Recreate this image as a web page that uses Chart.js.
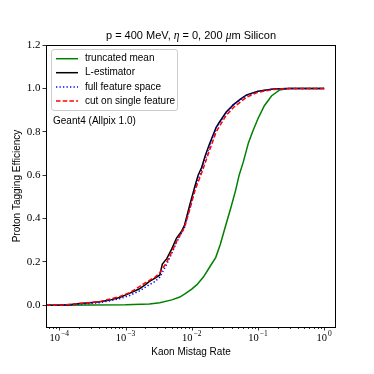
<!DOCTYPE html>
<html lang="en">
<head>
  <meta charset="UTF-8">
  <title>Proton Tagging Efficiency</title>
  <script src="https://cdn.jsdelivr.net/npm/chart.js"></script>
  <style>
    body { margin: 0; background: #fff; }
    #wrap { width: 374px; height: 374px; }
  </style>
</head>
<body>
  <div id="wrap"><canvas id="effChart" width="374" height="374"></canvas></div>

  <script>
    // truncated mean
    const truncMistag = [6.3e-5, 1e-4, 3e-4, 1e-3, 2.3e-3, 3.3e-3, 5.0e-3, 6.6e-3, 8.1e-3, 1.0e-2, 1.2e-2, 1.5e-2, 1.9e-2, 2.3e-2, 2.7e-2, 3.2e-2, 3.9e-2, 4.6e-2, 5.2e-2, 6.0e-2, 7.2e-2, 8.3e-2, 0.1, 0.125, 0.16, 0.21, 0.3, 1.0];
    const truncEff = [0, 0, 0.001, 0.002, 0.006, 0.012, 0.025, 0.038, 0.055, 0.075, 0.095, 0.13, 0.18, 0.22, 0.28, 0.36, 0.45, 0.53, 0.60, 0.66, 0.75, 0.80, 0.86, 0.92, 0.965, 0.992, 1.0, 1.0];

    // L-estimator
    const lestMistag = [6.3e-5, 1.0e-4, 1.4e-4, 2.0e-4, 2.9e-4, 4.1e-4, 5.8e-4, 8.1e-4, 1.15e-3, 1.6e-3, 2.0e-3, 2.3e-3, 2.8e-3, 3.3e-3, 3.6e-3, 4.2e-3, 5.0e-3, 5.9e-3, 7.0e-3, 7.8e-3, 9.3e-3, 1.12e-2, 1.25e-2, 1.41e-2, 1.6e-2, 1.86e-2, 2.34e-2, 2.63e-2, 3.3e-2, 4.27e-2, 5.5e-2, 6.76e-2, 0.1, 0.17, 0.3, 1.0];
    const lestEff = [0, 0.001, 0.003, 0.008, 0.012, 0.016, 0.024, 0.036, 0.055, 0.075, 0.095, 0.11, 0.125, 0.14, 0.19, 0.215, 0.26, 0.31, 0.34, 0.37, 0.46, 0.55, 0.6, 0.635, 0.69, 0.745, 0.82, 0.845, 0.89, 0.925, 0.952, 0.97, 0.987, 0.997, 1.0, 1.0];

    // full feature space
    const fullMistag = [6.3e-5, 1.2e-4, 2.0e-4, 4.1e-4, 8.1e-4, 1.15e-3, 1.6e-3, 2.3e-3, 2.8e-3, 3.3e-3, 4.2e-3, 5.0e-3, 5.9e-3, 7.8e-3, 9.3e-3, 1.12e-2, 1.41e-2, 1.86e-2, 2.34e-2, 3.3e-2, 4.27e-2, 6.76e-2, 0.1, 0.17, 0.3, 1.0];
    const fullEff = [0, 0.001, 0.005, 0.012, 0.03, 0.045, 0.065, 0.095, 0.11, 0.13, 0.19, 0.24, 0.29, 0.36, 0.445, 0.54, 0.625, 0.735, 0.818, 0.887, 0.926, 0.968, 0.986, 0.997, 1.0, 1.0];

    // cut on single feature
    const cutMistag = [6.3e-5, 1.2e-4, 2.0e-4, 4.1e-4, 8.1e-4, 1.15e-3, 1.6e-3, 1.9e-3, 2.3e-3, 2.8e-3, 3.3e-3, 4.2e-3, 5.0e-3, 5.9e-3, 7.8e-3, 9.3e-3, 1.12e-2, 1.41e-2, 1.86e-2, 2.34e-2, 3.3e-2, 4.27e-2, 6.76e-2, 0.1, 0.17, 0.3, 1.0];
    const cutEff = [0, 0.002, 0.008, 0.017, 0.04, 0.058, 0.085, 0.1, 0.115, 0.13, 0.15, 0.2, 0.245, 0.295, 0.36, 0.44, 0.53, 0.61, 0.715, 0.8, 0.875, 0.912, 0.96, 0.982, 0.995, 1.0, 1.0];

    const yTickValues = [0, 0.2, 0.4, 0.6, 0.8, 1.0, 1.2];
    const yTickLabels = ['0.0', '0.2', '0.4', '0.6', '0.8', '1.0', '1.2'];
    const xTickValues = [1e-4, 1e-3, 1e-2, 1e-1, 1];
    const xTickExps = ['\u22124', '\u22123', '\u22122', '\u22121', '0'];

    const toPoints = (xs, ys) => xs.map((x, i) => ({ x: x, y: ys[i] }));

    const sans = '"Liberation Sans", Arial, sans-serif';
    const serif = '"Liberation Serif", "Times New Roman", serif';

    // box, x ticks with superscripts, title, legend and note
    const extras = {
      id: 'extras',
      afterDraw(chart) {
        const { ctx, chartArea: a } = chart;
        const xs = chart.scales.x;
        ctx.save();

        // frame
        ctx.strokeStyle = '#000';
        ctx.lineWidth = 1;
        ctx.strokeRect(a.left + 0.5, a.top + 0.5, a.right - a.left - 1, a.bottom - a.top);

        // x ticks, major and minor
        ctx.lineWidth = 0.8;
        ctx.beginPath();
        for (let d = -5; d <= 0; d++) {
          for (let k = 1; k <= 9; k++) {
            const v = k * Math.pow(10, d);
            if (v < xs.min || v > xs.max) continue;
            const px = Math.round(xs.getPixelForValue(v)) + 0.5;
            const len = k === 1 ? 3.5 : 2;
            ctx.moveTo(px, a.bottom);
            ctx.lineTo(px, a.bottom + len);
          }
        }
        ctx.stroke();

        // x tick labels
        ctx.fillStyle = '#000';
        ctx.textBaseline = 'alphabetic';
        xTickValues.forEach((v, i) => {
          const px = xs.getPixelForValue(v);
          ctx.font = '10.5px ' + serif;
          const wb = ctx.measureText('10').width;
          ctx.font = '7.5px ' + serif;
          const we = ctx.measureText(xTickExps[i]).width;
          const x0 = px - (wb + we + 1) / 2;
          ctx.font = '10.5px ' + serif;
          ctx.textAlign = 'left';
          ctx.fillText('10', x0, 340.5);
          ctx.font = '7.5px ' + serif;
          ctx.fillText(xTickExps[i], x0 + wb + 1, 336);
        });

        // title
        const parts = [
          ['p = 400 MeV, ', '11px ' + sans],
          ['\u03b7', 'italic 11.5px ' + serif],
          [' = 0, 200 ', '11px ' + sans],
          ['\u03bc', 'italic 11.5px ' + serif],
          ['m Silicon', '11px ' + sans]
        ];
        let total = 0;
        parts.forEach(p => { ctx.font = p[1]; total += ctx.measureText(p[0]).width; });
        let tx = (a.left + a.right) / 2 - total / 2;
        ctx.textBaseline = 'alphabetic';
        parts.forEach(p => {
          ctx.font = p[1];
          ctx.fillText(p[0], tx, 38.5);
          tx += ctx.measureText(p[0]).width;
        });

        // legend
        const lx = 51.5, ly = 49.5, lw = 126, lh = 61;
        ctx.beginPath();
        ctx.roundRect(lx, ly, lw, lh, 2.5);
        ctx.fillStyle = 'rgba(255,255,255,0.8)';
        ctx.fill();
        ctx.strokeStyle = '#cccccc';
        ctx.lineWidth = 1;
        ctx.stroke();

        const rows = [58.7, 72.7, 87, 101];
        chart.data.datasets.forEach((ds, i) => {
          const ry = rows[i];
          ctx.beginPath();
          ctx.setLineDash(ds.borderDash || []);
          ctx.strokeStyle = ds.borderColor;
          ctx.lineWidth = ds.borderWidth;
          ctx.moveTo(56, ry);
          ctx.lineTo(78, ry);
          ctx.stroke();
          ctx.setLineDash([]);
          ctx.fillStyle = '#000';
          ctx.font = '10px ' + sans;
          ctx.textAlign = 'left';
          ctx.textBaseline = 'middle';
          ctx.fillText(ds.label, 85, ry);
        });

        // note
        ctx.font = '10px ' + sans;
        ctx.fillText('Geant4 (Allpix 1.0)', 53, 121.5);
        ctx.restore();
      }
    };

    new Chart(document.getElementById('effChart').getContext('2d'), {
      type: 'line',
      data: {
        datasets: [
          { label: 'truncated mean', data: toPoints(truncMistag, truncEff), borderColor: '#008000', borderWidth: 1.5, order: 4 },
          { label: 'L-estimator', data: toPoints(lestMistag, lestEff), borderColor: '#000000', borderWidth: 1.5, order: 3 },
          { label: 'full feature space', data: toPoints(fullMistag, fullEff), borderColor: '#0000ff', borderWidth: 1.5, borderDash: [1.3, 2.2], order: 2 },
          { label: 'cut on single feature', data: toPoints(cutMistag, cutEff), borderColor: '#ff0000', borderWidth: 1.5, borderDash: [4.5, 2.2], order: 1 }
        ]
      },
      options: {
        responsive: false,
        animation: false,
        devicePixelRatio: 1,
        elements: { point: { radius: 0 }, line: { tension: 0, fill: false } },
        layout: { padding: { top: 45, right: 38, left: 0, bottom: 0 } },
        plugins: { legend: { display: false }, tooltip: { enabled: false } },
        scales: {
          x: {
            type: 'logarithmic',
            min: 6.3e-5,
            max: 1.51,
            grid: { display: false },
            border: { display: false },
            ticks: { display: false },
            title: { display: true, text: 'Kaon Mistag Rate', color: '#000', font: { family: sans, size: 10 }, padding: { top: 16, bottom: 16 } },
            afterFit: s => { s.height = 47; }
          },
          y: {
            min: -0.1,
            max: 1.2,
            grid: { display: true, drawOnChartArea: false, drawTicks: true, tickLength: 3.5, tickColor: '#000', tickWidth: 0.8 },
            border: { display: false },
            afterBuildTicks: s => { s.ticks = yTickValues.map(v => ({ value: v })); },
            ticks: {
              color: '#000',
              padding: 2,
              font: { family: serif, size: 11 },
              callback: (v, i) => yTickLabels[i]
            },
            title: { display: true, text: 'Proton Tagging Efficiency', color: '#000', font: { family: sans, size: 10 }, padding: { top: 11, bottom: 11 } },
            afterFit: s => { s.width = 46; }
          }
        }
      },
      plugins: [extras]
    });
  </script>
</body>
</html>
